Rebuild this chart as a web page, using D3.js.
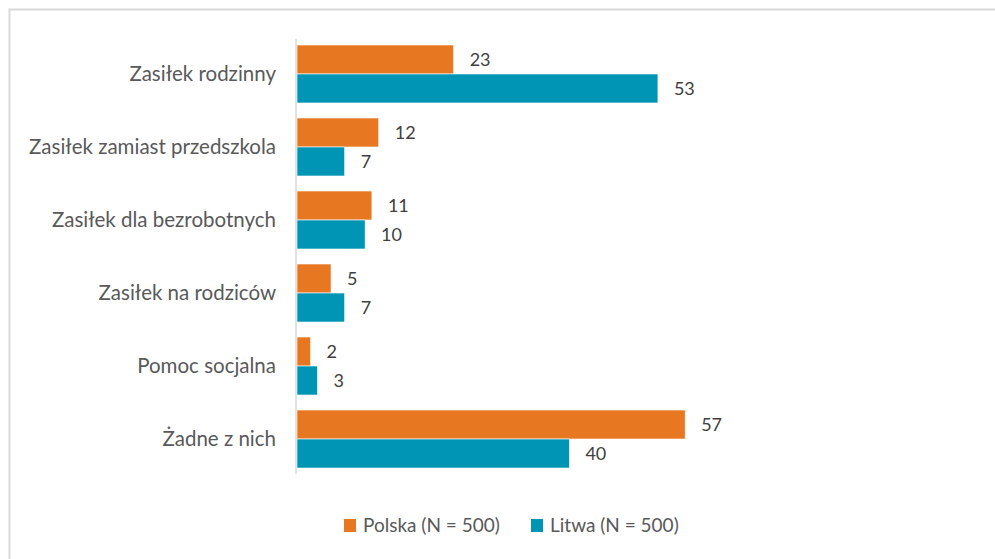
<!DOCTYPE html>
<html>
<head>
<meta charset="utf-8">
<script src="https://cdn.jsdelivr.net/npm/d3@7"></script>
<style>
  body { margin: 0; background: #fff; }
  svg text { font-family: "Source Sans Pro", Lato, sans-serif; fill: #595959; }
</style>
</head>
<body>
<div id="chart"></div>
<script>
const categories = ["Zasiłek rodzinny", "Zasiłek zamiast przedszkola", "Zasiłek dla bezrobotnych",
  "Zasiłek na rodziców", "Pomoc socjalna", "Żadne z nich"];
const polska = [23, 12, 11, 5, 2, 57];
const litwa = [53, 7, 10, 7, 3, 40];
const seriesNames = ["Polska (N = 500)", "Litwa (N = 500)"];
const colors = ["#E87722", "#0095B5"];

const width = 995, height = 559;
const svg = d3.select("#chart").append("svg")
  .attr("width", width).attr("height", height);

// outer frame
svg.append("rect")
  .attr("x", 9.5).attr("y", 9.5)
  .attr("width", width + 20).attr("height", height + 20)
  .attr("fill", "none").attr("stroke", "#d9d9d9").attr("stroke-width", 2);

const y = d3.scaleBand().domain(categories).range([39, 474])
  .paddingInner(0.2055).paddingOuter(0.082);
const x = d3.scaleLinear().domain([0, 60]).range([297, 705.6]);

const data = categories.map((c, i) => ({ cat: c, vals: [polska[i], litwa[i]] }));

const groups = svg.selectAll("g.grp").data(data).join("g").attr("class", "grp")
  .attr("transform", d => `translate(0,${y(d.cat)})`);

const bh = y.bandwidth() / 2;
groups.selectAll("rect").data(d => d.vals).join("rect")
  .attr("x", x(0))
  .attr("y", (d, i) => i * bh)
  .attr("width", d => x(d) - x(0))
  .attr("height", bh)
  .attr("fill", (d, i) => colors[i])
  .attr("stroke", "#fff").attr("stroke-width", 0.6);

groups.selectAll("text.val").data(d => d.vals).join("text").attr("class", "val")
  .attr("x", d => x(d) + 16)
  .attr("y", (d, i) => i * bh + bh / 2)
  .attr("dy", "0.35em")
  .style("font-size", "18px")
  .style("fill", "#404040")
  .text(d => d);

// category axis
svg.append("line").attr("x1", 296).attr("x2", 296).attr("y1", 39).attr("y2", 474)
  .attr("stroke", "#d9d9d9").attr("stroke-width", 1.5);

svg.selectAll("text.cat").data(categories).join("text").attr("class", "cat")
  .attr("x", 276)
  .attr("y", d => y(d) + y.bandwidth() / 2)
  .attr("dy", "0.35em")
  .attr("text-anchor", "end")
  .style("font-size", "20.5px")
  .text(d => d);

// legend
const legendX = [344, 531];
const legend = svg.selectAll("g.leg").data(seriesNames).join("g").attr("class", "leg")
  .attr("transform", (d, i) => `translate(${legendX[i]},519)`);
legend.append("rect").attr("width", 12).attr("height", 13).attr("fill", (d, i) => colors[i]);
legend.append("text").attr("x", 19).attr("y", 6.5).attr("dy", "0.35em")
  .style("font-size", "19px").text(d => d);
</script>
</body>
</html>
